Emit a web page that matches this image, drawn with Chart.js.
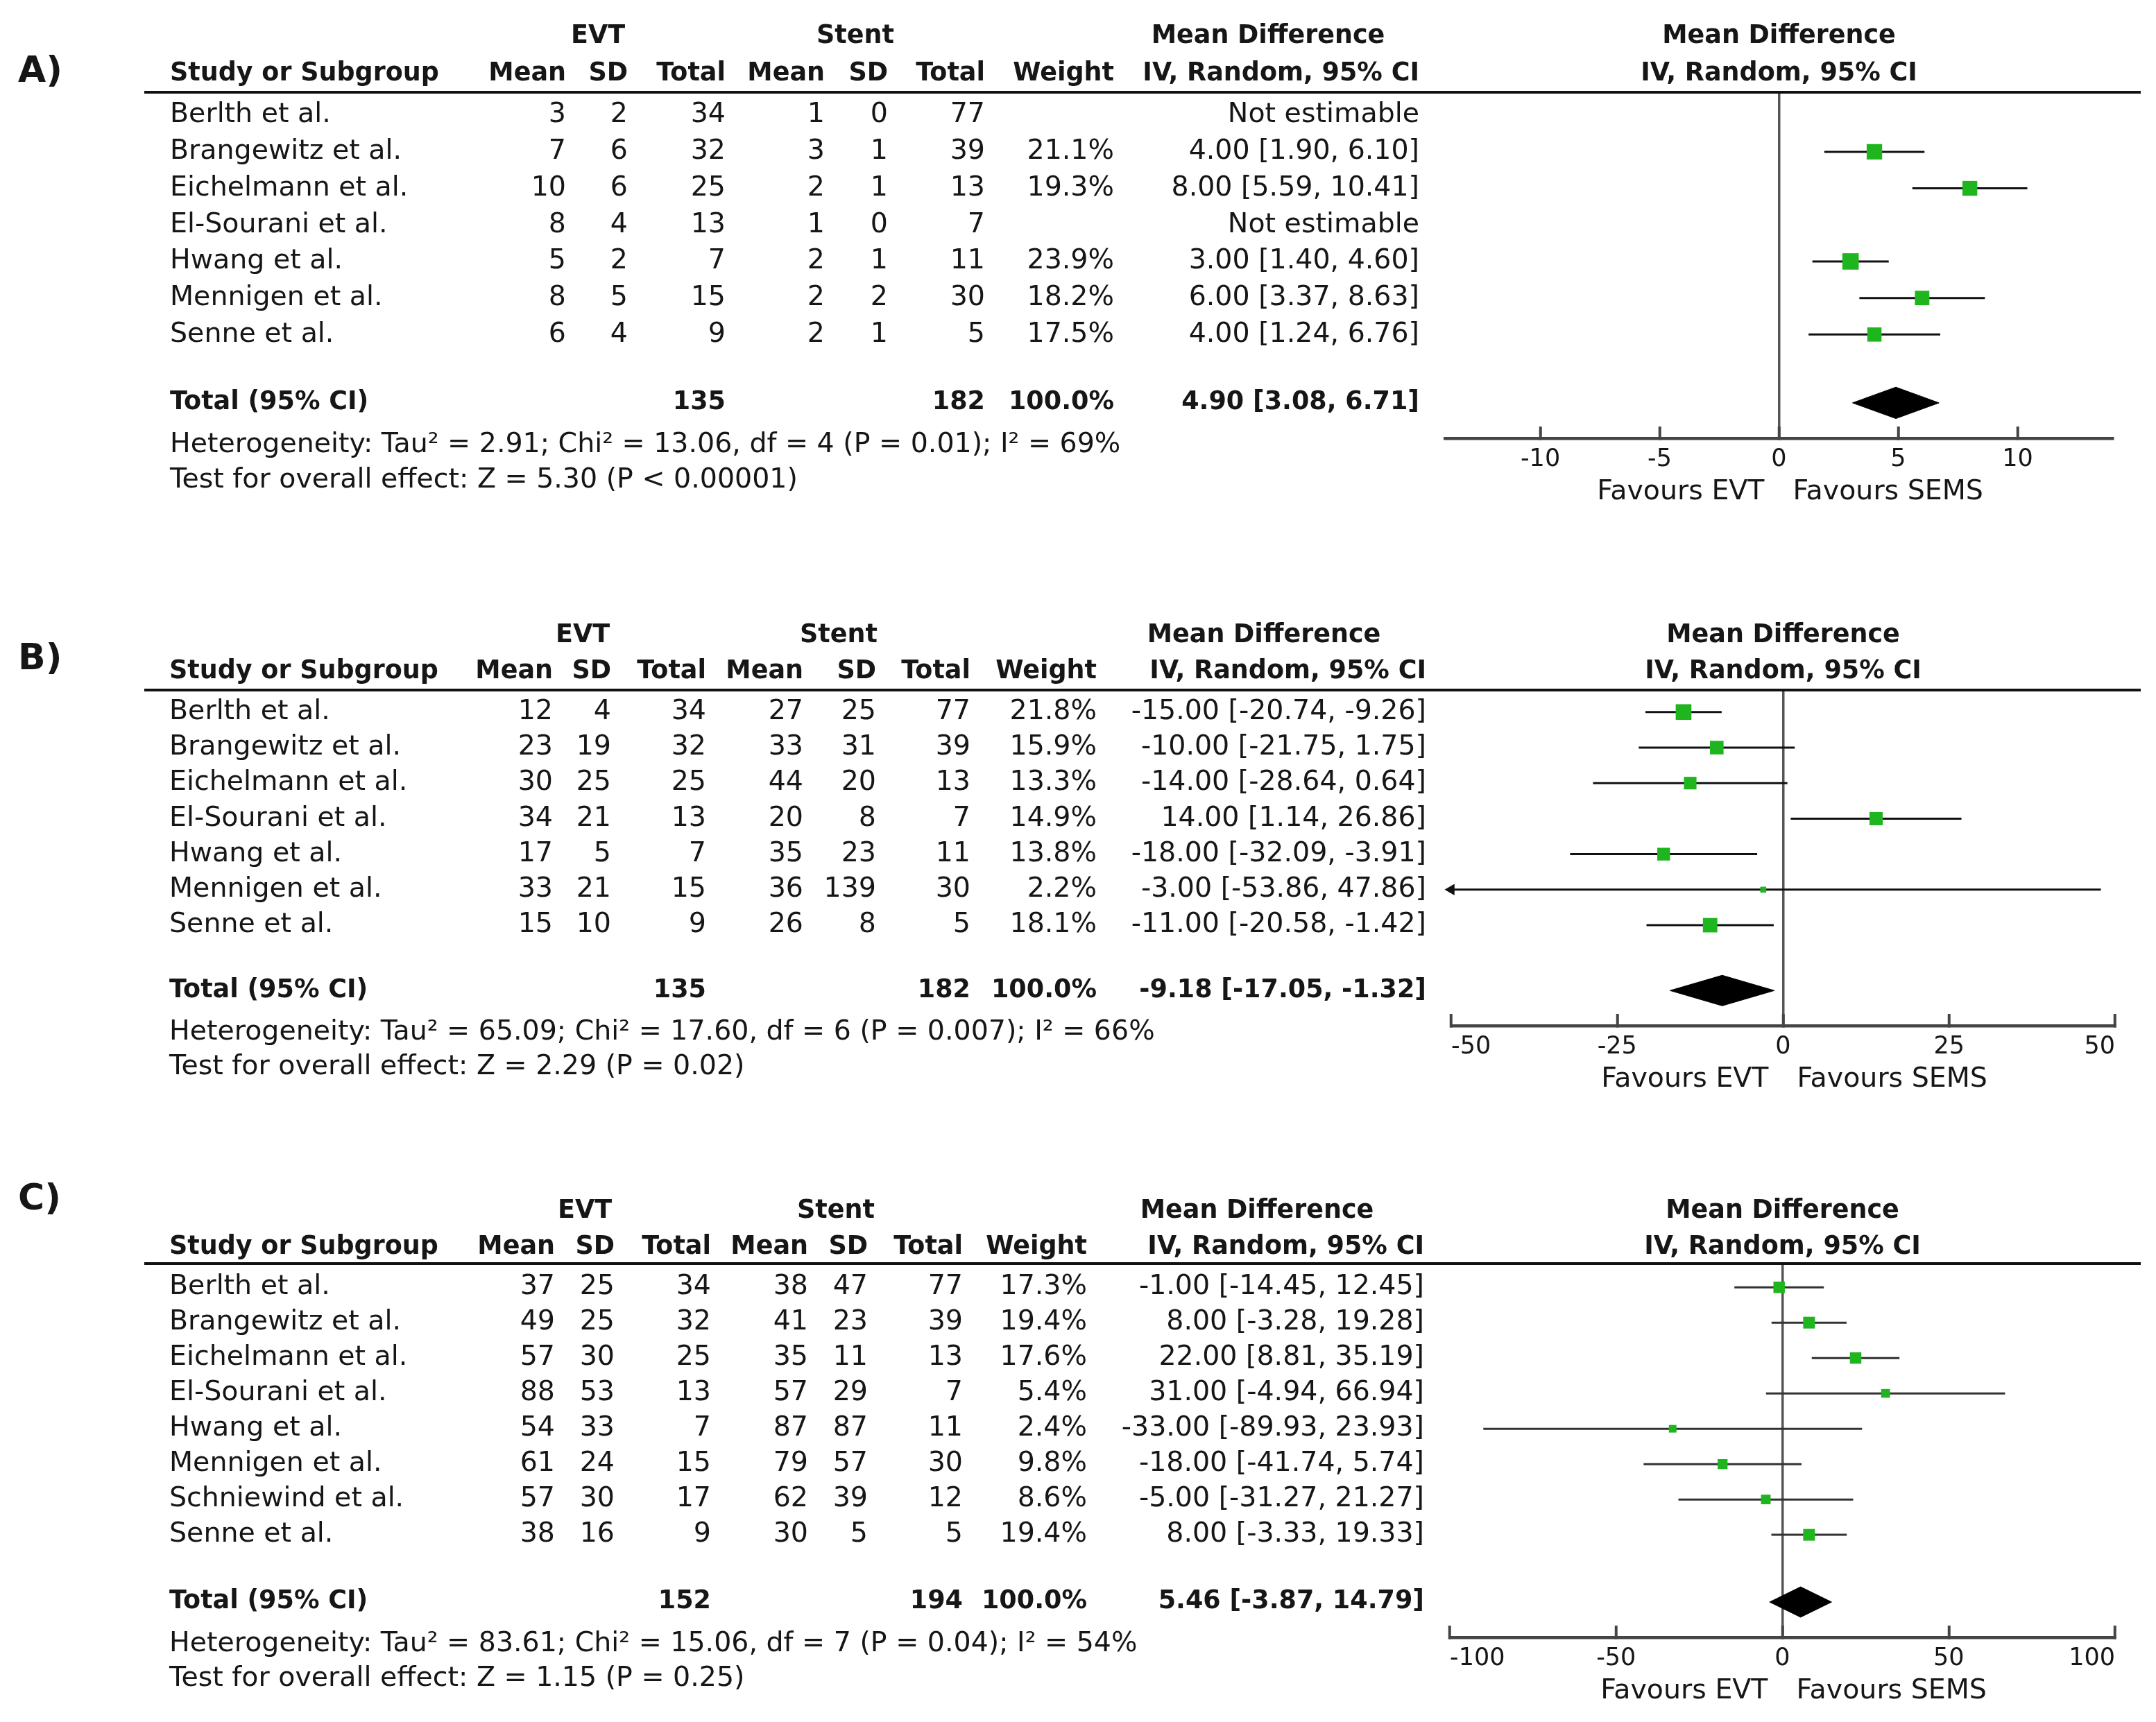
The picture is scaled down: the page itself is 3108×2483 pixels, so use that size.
<!DOCTYPE html>
<html>
<head>
<meta charset="utf-8">
<script src="https://cdn.jsdelivr.net/npm/chart.js@4.4.1/dist/chart.umd.min.js"></script>
<style>
  body { margin: 0; background: #fff; }
  canvas { position: absolute; left: 0; }
</style>
</head>
<body>
<canvas id="chartA" width="3108" height="780" style="top:0px"></canvas>
<canvas id="chartB" width="3108" height="760" style="top:860px"></canvas>
<canvas id="chartC" width="3108" height="803" style="top:1680px"></canvas>
<script>
// === Data: A) ===
const studiesA = ['Berlth et al.', 'Brangewitz et al.', 'Eichelmann et al.', 'El-Sourani et al.', 'Hwang et al.', 'Mennigen et al.', 'Senne et al.'];
const evtMeanA = [3, 7, 10, 8, 5, 8, 6];
const evtSdA = [2, 6, 6, 4, 2, 5, 4];
const evtNA = [34, 32, 25, 13, 7, 15, 9];
const stentMeanA = [1, 3, 2, 1, 2, 2, 2];
const stentSdA = [0, 1, 1, 0, 1, 2, 1];
const stentNA = [77, 39, 13, 7, 11, 30, 5];
const weightA = [null, 21.1, 19.3, null, 23.9, 18.2, 17.5];
const mdA = [null, 4.00, 8.00, null, 3.00, 6.00, 4.00];
const loA = [null, 1.90, 5.59, null, 1.40, 3.37, 1.24];
const hiA = [null, 6.10, 10.41, null, 4.60, 8.63, 6.76];
const totalsA = [135, 182];
const pooledA = [4.90, 3.08, 6.71];
const hetA = ['2.91', '13.06', 4, '= 0.01', 69];
const testA = ['5.30', '< 0.00001'];
const ticksA = [-10, -5, 0, 5, 10];

// === Data: B) ===
const studiesB = ['Berlth et al.', 'Brangewitz et al.', 'Eichelmann et al.', 'El-Sourani et al.', 'Hwang et al.', 'Mennigen et al.', 'Senne et al.'];
const evtMeanB = [12, 23, 30, 34, 17, 33, 15];
const evtSdB = [4, 19, 25, 21, 5, 21, 10];
const evtNB = [34, 32, 25, 13, 7, 15, 9];
const stentMeanB = [27, 33, 44, 20, 35, 36, 26];
const stentSdB = [25, 31, 20, 8, 23, 139, 8];
const stentNB = [77, 39, 13, 7, 11, 30, 5];
const weightB = [21.8, 15.9, 13.3, 14.9, 13.8, 2.2, 18.1];
const mdB = [-15.00, -10.00, -14.00, 14.00, -18.00, -3.00, -11.00];
const loB = [-20.74, -21.75, -28.64, 1.14, -32.09, -53.86, -20.58];
const hiB = [-9.26, 1.75, 0.64, 26.86, -3.91, 47.86, -1.42];
const totalsB = [135, 182];
const pooledB = [-9.18, -17.05, -1.32];
const hetB = ['65.09', '17.60', 6, '= 0.007', 66];
const testB = ['2.29', '= 0.02'];
const ticksB = [-50, -25, 0, 25, 50];

// === Data: C) ===
const studiesC = ['Berlth et al.', 'Brangewitz et al.', 'Eichelmann et al.', 'El-Sourani et al.', 'Hwang et al.', 'Mennigen et al.', 'Schniewind et al.', 'Senne et al.'];
const evtMeanC = [37, 49, 57, 88, 54, 61, 57, 38];
const evtSdC = [25, 25, 30, 53, 33, 24, 30, 16];
const evtNC = [34, 32, 25, 13, 7, 15, 17, 9];
const stentMeanC = [38, 41, 35, 57, 87, 79, 62, 30];
const stentSdC = [47, 23, 11, 29, 87, 57, 39, 5];
const stentNC = [77, 39, 13, 7, 11, 30, 12, 5];
const weightC = [17.3, 19.4, 17.6, 5.4, 2.4, 9.8, 8.6, 19.4];
const mdC = [-1.00, 8.00, 22.00, 31.00, -33.00, -18.00, -5.00, 8.00];
const loC = [-14.45, -3.28, 8.81, -4.94, -89.93, -41.74, -31.27, -3.33];
const hiC = [12.45, 19.28, 35.19, 66.94, 23.93, 5.74, 21.27, 19.33];
const totalsC = [152, 194];
const pooledC = [5.46, -3.87, 14.79];
const hetC = ['83.61', '15.06', 7, '= 0.04', 54];
const testC = ['1.15', '= 0.25'];
const ticksC = [-100, -50, 0, 50, 100];

// === Style ===
const FAMILY = '"DejaVu Sans", sans-serif';
const FS = 39.5;    // regular text
const FSB = 36.5;   // bold text
const TEXT = '#161616';
const GREEN = '#1fb51f';

function minus(v) { return v < 0 ? '-' + Math.abs(v) : String(v); }
function fmt(v) { return (v < 0 ? '-' : '') + Math.abs(v).toFixed(2); }
function ciText(m, l, h) { return fmt(m) + ' [' + fmt(l) + ', ' + fmt(h) + ']'; }

// === Table text drawn next to the plot ===
function drawTable(chart, d, lay) {
  const { ctx, scales: { x, y }, chartArea } = chart;
  const n = d.studies.length;
  const c = lay.col;
  const reg = FS + 'px ' + FAMILY, bold = 'bold ' + FSB + 'px ' + FAMILY;
  const rowY = r => y.getPixelForValue(r);
  ctx.save();
  ctx.fillStyle = TEXT;
  ctx.textBaseline = 'middle';
  function txt(s, px, r, align, font) {
    ctx.font = font; ctx.textAlign = align;
    ctx.fillText(s, px, typeof r === 'number' ? rowY(r) : r.px);
  }
  const zero = x.getPixelForValue(0);

  ctx.font = 'bold 52px ' + FAMILY; ctx.textAlign = 'left';
  ctx.fillText(lay.letter, 26, rowY(lay.letterRow));

  const h1 = -2.15, h2 = -1.13;
  txt('EVT', c.evtC, h1, 'center', bold);
  txt('Stent', c.stC, h1, 'center', bold);
  txt('Mean Difference', c.mdC, h1, 'center', bold);
  txt('Mean Difference', zero, h1, 'center', bold);
  txt('Study or Subgroup', c.name, h2, 'left', bold);
  [['Mean', c.em], ['SD', c.es], ['Total', c.en], ['Mean', c.sm], ['SD', c.ss],
   ['Total', c.sn], ['Weight', c.w], ['IV, Random, 95% CI', c.ci]]
    .forEach(([s, px]) => txt(s, px, h2, 'right', bold));
  txt('IV, Random, 95% CI', zero, h2, 'center', bold);

  ctx.strokeStyle = '#111'; ctx.lineWidth = 4;
  ctx.beginPath(); ctx.moveTo(208, chartArea.top); ctx.lineTo(3086, chartArea.top); ctx.stroke();

  for (let i = 0; i < n; i++) {
    txt(d.studies[i], c.name, i, 'left', reg);
    txt(String(d.evtMean[i]), c.em, i, 'right', reg);
    txt(String(d.evtSd[i]), c.es, i, 'right', reg);
    txt(String(d.evtN[i]), c.en, i, 'right', reg);
    txt(String(d.stentMean[i]), c.sm, i, 'right', reg);
    txt(String(d.stentSd[i]), c.ss, i, 'right', reg);
    txt(String(d.stentN[i]), c.sn, i, 'right', reg);
    if (d.md[i] === null) {
      txt('Not estimable', c.ci, i, 'right', reg);
    } else {
      txt(d.weight[i].toFixed(1) + '%', c.w, i, 'right', reg);
      txt(ciText(d.md[i], d.lo[i], d.hi[i]), c.ci, i, 'right', reg);
    }
  }

  const tr = lay.totRow;
  txt('Total (95% CI)', c.name, tr, 'left', bold);
  txt(String(d.totals[0]), c.en, tr, 'right', bold);
  txt(String(d.totals[1]), c.sn, tr, 'right', bold);
  txt('100.0%', c.w, tr, 'right', bold);
  txt(ciText(d.pooled[0], d.pooled[1], d.pooled[2]), c.ci, tr, 'right', bold);

  const h = d.het;
  txt('Heterogeneity: Tau\u00b2 = ' + h[0] + '; Chi\u00b2 = ' + h[1] + ', df = ' + h[2] +
      ' (P ' + h[3] + '); I\u00b2 = ' + h[4] + '%', c.name, lay.hetRow, 'left', reg);
  txt('Test for overall effect: Z = ' + d.test[0] + ' (P ' + d.test[1] + ')', c.name, lay.hetRow + 0.97, 'left', reg);

  const fy = { px: chartArea.bottom + 78 };
  txt('Favours EVT', zero - 21, fy, 'right', reg);
  txt('Favours SEMS', zero + 20, fy, 'left', reg);
  ctx.restore();
}

// === Forest plot ===
function makeForest(canvasId, d, lay) {
  const n = d.studies.length;
  const squares = [], lines = [], arrows = [];
  for (let i = 0; i < n; i++) {
    if (d.md[i] === null) continue;
    squares.push({ x: d.md[i], y: i, w: d.weight[i] });
    lines.push({ x: Math.max(d.lo[i], lay.xMin), y: i }, { x: Math.min(d.hi[i], lay.xMax), y: i }, { x: d.hi[i], y: null });
    if (d.lo[i] < lay.xMin) arrows.push({ x: lay.xMin, y: i });
    if (d.hi[i] > lay.xMax) arrows.push({ x: lay.xMax, y: i, right: true });
  }
  const tr = lay.totRow;
  const [pm, pl, ph] = d.pooled;
  const dTop = [{ x: pl, y: tr }, { x: pm, y: tr - 0.43 }, { x: ph, y: tr }];
  const dBot = [{ x: pl, y: tr }, { x: pm, y: tr + 0.43 }, { x: ph, y: tr }];
  const sqR = c => c.raw ? lay.sq(c.raw.w) / Math.SQRT2 : 0;

  return new Chart(document.getElementById(canvasId), {
    type: 'scatter',
    data: {
      datasets: [
        { data: squares, pointStyle: 'rect', backgroundColor: GREEN, borderWidth: 0,
          pointRadius: sqR, pointHoverRadius: sqR },
        { data: arrows, pointStyle: 'triangle', backgroundColor: '#111', borderWidth: 0,
          pointRadius: 9.5, pointRotation: c => (c.raw && c.raw.right) ? 90 : 270, clip: false },
        { type: 'line', data: lines, borderColor: lay.lineColor, borderWidth: 3, pointRadius: 0,
          spanGaps: false, fill: false },
        { type: 'line', data: dTop, borderColor: '#000', borderWidth: 1, backgroundColor: '#000',
          pointRadius: 0, fill: false },
        { type: 'line', data: dBot, borderColor: '#000', borderWidth: 1, backgroundColor: '#000',
          pointRadius: 0, fill: '-1' }
      ]
    },
    options: {
      responsive: false,
      animation: false,
      devicePixelRatio: 1,
      layout: { padding: { left: lay.left, right: 3108 - lay.right, top: lay.padTop, bottom: lay.padBottom } },
      plugins: { legend: { display: false }, tooltip: { enabled: false } },
      scales: {
        x: {
          type: 'linear', min: lay.xMin, max: lay.xMax,
          afterBuildTicks: s => { s.ticks = d.ticks.map(v => ({ value: v })); },
          grid: {
            color: c => (c.tick && c.tick.value === 0) ? '#555' : 'rgba(0,0,0,0)',
            lineWidth: 3.5, drawTicks: true, tickLength: -17, tickColor: '#444', tickWidth: 4
          },
          border: { display: true, color: '#444', width: 4.5 },
          ticks: { padding: 27, color: TEXT, font: { size: 35, family: FAMILY }, align: lay.tickAlign,
                   maxRotation: 0, autoSkip: false, callback: v => minus(v) }
        },
        y: { type: 'linear', reverse: true, min: lay.yMin, max: lay.yMax, display: false }
      }
    },
    plugins: [{ id: 'table' + canvasId, afterDraw: ch => drawTable(ch, d, lay) }]
  });
}

makeForest('chartA', {
  studies: studiesA, evtMean: evtMeanA, evtSd: evtSdA, evtN: evtNA,
  stentMean: stentMeanA, stentSd: stentSdA, stentN: stentNA, weight: weightA,
  md: mdA, lo: loA, hi: hiA, totals: totalsA, pooled: pooledA, het: hetA, test: testA, ticks: ticksA
}, {
  letter: 'A)', letterRow: -1.18, yMin: -0.63, yMax: 8.84, totRow: 7.87, hetRow: 9.02,
  xMin: -14, xMax: 14, left: 2083, right: 3046,
  padTop: 133, padBottom: 69, tickAlign: 'center', lineColor: '#111', sq: w => 2 + 4.42 * Math.sqrt(w),
  col: { name: 245, em: 816, es: 905, en: 1046, sm: 1189, ss: 1280, sn: 1420, w: 1606, ci: 2046,
         evtC: 862, stC: 1233, mdC: 1828 }
});

makeForest('chartB', {
  studies: studiesB, evtMean: evtMeanB, evtSd: evtSdB, evtN: evtNB,
  stentMean: stentMeanB, stentSd: stentSdB, stentN: stentNB, weight: weightB,
  md: mdB, lo: loB, hi: hiB, totals: totalsB, pooled: pooledB, het: hetB, test: testB, ticks: ticksB
}, {
  letter: 'B)', letterRow: -1.47, yMin: -0.62, yMax: 8.83, totRow: 7.84, hetRow: 9.02,
  xMin: -50, xMax: 50, left: 2092, right: 3049,
  padTop: 135, padBottom: 62, tickAlign: 'inner', lineColor: '#111', sq: w => 2 + 4.42 * Math.sqrt(w),
  col: { name: 244, em: 797, es: 881, en: 1018, sm: 1158, ss: 1263, sn: 1399, w: 1581, ci: 2056,
         evtC: 840, stC: 1209, mdC: 1822 }
});

makeForest('chartC', {
  studies: studiesC, evtMean: evtMeanC, evtSd: evtSdC, evtN: evtNC,
  stentMean: stentMeanC, stentSd: stentSdC, stentN: stentNC, weight: weightC,
  md: mdC, lo: loC, hi: hiC, totals: totalsC, pooled: pooledC, het: hetC, test: testC, ticks: ticksC
}, {
  letter: 'C)', letterRow: -2.46, yMin: -0.67, yMax: 9.9, totRow: 8.9, hetRow: 10.1,
  xMin: -100, xMax: 100, left: 2090, right: 3049,
  padTop: 142, padBottom: 43, tickAlign: 'inner', lineColor: '#333', sq: w => 7.7 + 2.1 * Math.sqrt(w),
  col: { name: 244, em: 800, es: 886, en: 1025, sm: 1165, ss: 1251, sn: 1388, w: 1567, ci: 2053,
         evtC: 843, stC: 1205, mdC: 1812 }
});
</script>
</body>
</html>
